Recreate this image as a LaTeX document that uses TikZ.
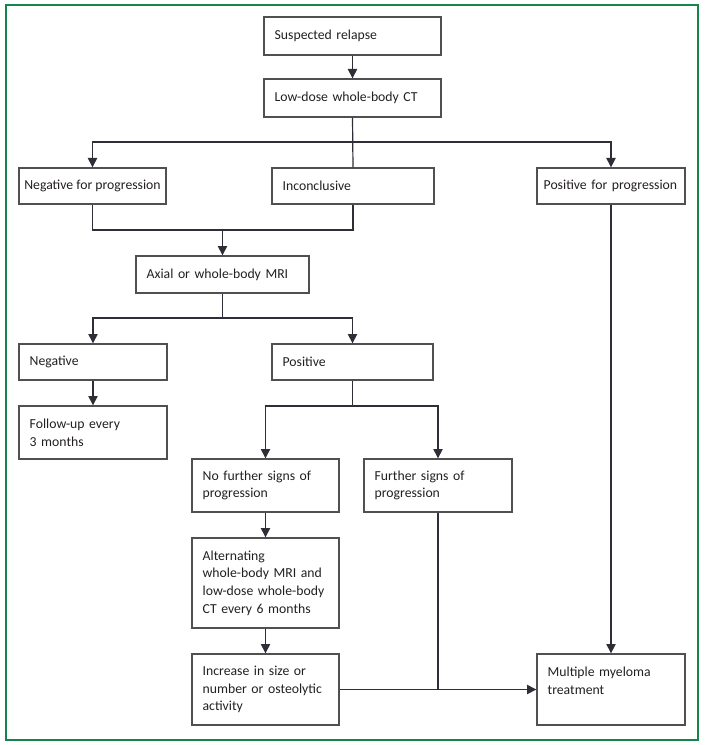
\documentclass[tikz,border=0pt]{standalone}
\usepackage{fontspec}
\setmainfont{Carlito}
\usetikzlibrary{arrows.meta, positioning}
\definecolor{framegreen}{HTML}{15854D}
\definecolor{boxline}{HTML}{505050}
\definecolor{connline}{HTML}{2E2E36}
\definecolor{txtdark}{HTML}{231F20}

\tikzset{
  box/.style={draw=boxline, line width=1pt, align=left, inner xsep=8pt, inner ysep=0pt,
    text width=#1, text=txtdark, font=\fontsize{10.3}{13.2}\selectfont,
    execute at begin node={\hyphenpenalty=10000 }},
  conn/.style={draw=connline, line width=0.9pt},
  arr/.style={conn, -{Triangle[width=7pt,length=7pt]}}
}

\begin{document}
\begin{tikzpicture}[x=0.75pt, y=-0.75pt]
  \useasboundingbox (0,0) rectangle (705,745);
  % frame
  \draw[framegreen, line width=1.5pt] (5.5,5.5) rectangle (697.5,739.5);

  % top of the chart
  \node[box=116.75pt, minimum height=28.5pt] (relapse) at (352.5,36) {Suspected relapse};
  \node[box=116.75pt, minimum height=28.5pt] (ct) at (352.5,98) {Low-dose whole-body CT};

  % CT result
  \node[box=, inner xsep=1pt, minimum width=110.25pt, minimum height=27pt] (negprog) at (92.5,186) {Negative for progression};
  \node[box=105.5pt, minimum height=27pt] (incon) at (353,186) {Inconclusive};
  \node[box=101pt, inner xsep=5pt, minimum height=27pt] (posprog) at (611,186) {Positive for progression};

  % MRI
  \node[box=113.75pt, minimum height=27.75pt] (mri) at (222.5,274.5) {Axial or whole-body MRI};
  \node[box=95pt, minimum height=27pt] (neg) at (93,362) {Negative};
  \node[box=104.75pt, minimum height=27pt] (pos) at (352.5,362) {Positive};
  \node[box=95pt, minimum height=39.75pt] (followup) at (93,432.5) {Follow-up every\\3 months};

  % after a positive MRI
  \node[box=94.25pt, minimum height=39.75pt] (nofurther) at (265.5,485.5) {No further signs of\\progression};
  \node[box=95pt, minimum height=39.75pt] (further) at (438,485.5) {Further signs of\\progression};
  \node[box=94.25pt, minimum height=67.5pt] (alternating) at (265.5,583)
    {Alternating\\whole-body MRI and\\low-dose whole-body\\CT every 6 months};
  \node[box=94.25pt, minimum height=53.25pt] (increase) at (265.5,689.5)
    {Increase in size or\\number or osteolytic\\activity};
  \node[box=95pt, minimum height=53.25pt] (treatment) at (611,689.5)
    {Multiple myeloma\\treatment\\\mbox{}};

  % junctions
  \coordinate (j1) at (352.5,142);
  \coordinate (j2) at (222.5,230);
  \coordinate (j3) at (222.5,318);
  \coordinate (j4) at (352.5,406);
  \coordinate (j5) at (further.south |- increase.east);

  % connectors
  \draw[arr] (relapse) -- (ct);
  \draw[conn] (ct.south) -- (incon.north);
  \draw[arr] (j1) -| (negprog.north);
  \draw[arr] (j1) -| (posprog.north);
  \draw[conn] (negprog.south) |- (j2) -| (incon.south);
  \draw[arr] (j2) -- (mri.north);
  \draw[conn] (mri.south) -- (j3);
  \draw[arr] (j3) -| (neg.north);
  \draw[arr] (j3) -| (pos.north);
  \draw[arr] (neg) -- (followup);
  \draw[conn] (pos.south) -- (j4);
  \draw[arr] (j4) -| (nofurther.north);
  \draw[arr] (j4) -| (further.north);
  \draw[arr] (nofurther) -- (alternating);
  \draw[arr] (alternating) -- (increase);
  \draw[arr] (posprog) -- (treatment);
  \draw[conn] (further.south) -- (j5);
  \draw[arr] (increase.east) -- (treatment.west);
\end{tikzpicture}
\end{document}
